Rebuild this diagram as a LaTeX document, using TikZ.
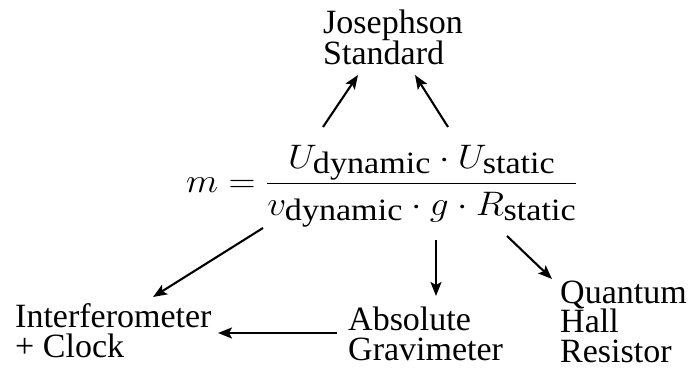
\RequirePackage{fix-cm}
\documentclass[tikz,border=0pt]{standalone}
\usepackage{amsmath}
\usepackage{graphicx}
\usepackage{fontspec}
\setmainfont{Liberation Serif}
\usetikzlibrary{arrows.meta}
\newcommand{\subtxt}[1]{\smash[t]{\hbox{\fontsize{31}{31}\selectfont #1}}}
\begin{document}
\begin{tikzpicture}[x=1pt,y=-1pt,
  lbl/.style={font=\fontsize{34}{29.5}\selectfont, align=left, inner sep=0pt, anchor=base west},
  arr/.style={-{Stealth[length=14pt,width=11pt,inset=3pt]}, line width=2.1pt}]
\useasboundingbox (0,0) rectangle (689,369);
\node[lbl] (jos) at (323,65) {Josephson\\Standard};
\node[lbl] (intf) at (15,357) {Interferometer\\+ Clock};
\node[lbl] (grav) at (348,360) {Absolute\\Gravimeter};
\node[lbl] (qhr) at (560,362) {Quantum\\Hall\\Resistor};
\node[inner sep=0pt, anchor=base west, font=\fontsize{34}{40}\selectfont] (eq) at (186,192)
  {\scalebox{1.1}[1]{$\displaystyle m = \frac{U_{\subtxt{dynamic}}\cdot U_{\subtxt{static}}}{v_{\subtxt{dynamic}}\cdot g\cdot R_{\subtxt{static}}}$}};
\coordinate (u1) at (323,127);
\coordinate (u2) at (448,127);
\coordinate (dv) at (263,228);
\coordinate (dg) at (436,240);
\coordinate (dr) at (507,236);
\coordinate (ga) at (337,333);
\coordinate (jl) at (358,75);
\coordinate (jr) at (415,75);
\coordinate (it) at (153,297);
\coordinate (gt) at (436,296);
\coordinate (qt) at (552,279);
\coordinate (ia) at (218,333);
\draw[arr] (u1) -- (jl);
\draw[arr] (u2) -- (jr);
\draw[arr] (dv) -- (it);
\draw[arr] (dg) -- (gt);
\draw[arr] (dr) -- (qt);
\draw[arr] (ga) -- (ia);
\end{tikzpicture}
\end{document}
